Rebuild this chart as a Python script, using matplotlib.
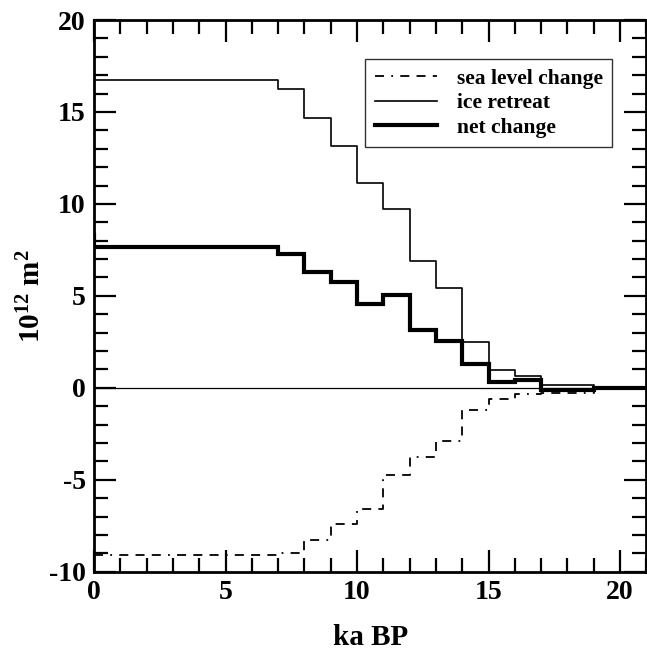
import matplotlib
matplotlib.use("Agg")
import matplotlib.pyplot as plt
from matplotlib.ticker import MultipleLocator

# Interval edges (ka BP) and values per interval (10^12 m^2)
edges = [0, 7, 8, 9, 10, 11, 12, 13, 14, 15, 16, 17, 18, 19, 21]
ice_retreat = [16.74, 16.23, 14.66, 13.15, 11.12, 9.75, 6.9, 5.42, 2.5, 0.96, 0.63, 0.15, 0.15, 0.0]
sea_level = [-9.11, -8.99, -8.30, -7.43, -6.58, -4.76, -3.75, -2.9, -1.2, -0.63, -0.36, -0.28, -0.28, 0.0]
net_change = [7.65, 7.28, 6.32, 5.74, 4.57, 5.02, 3.15, 2.55, 1.3, 0.33, 0.40, -0.12, -0.12, 0.0]
net_start = 8.3

xticks = [0, 5, 10, 15, 20]
yticks = [-10, -5, 0, 5, 10, 15, 20]

plt.rcParams['font.family'] = ['Liberation Serif', 'DejaVu Serif']
plt.rcParams['font.weight'] = 'bold'
plt.rcParams['axes.unicode_minus'] = False
plt.rcParams['mathtext.fontset'] = 'custom'
plt.rcParams['mathtext.rm'] = 'Liberation Serif:bold'
plt.rcParams['mathtext.bf'] = 'Liberation Serif:bold'
plt.rcParams['mathtext.it'] = 'Liberation Serif:bold'

fig = plt.figure(figsize=(6.47, 6.50), dpi=100)
ax = fig.add_axes([0.1453, 0.1205, 0.8537, 0.8487])

ax.axhline(0, color='black', lw=0.9, zorder=1)

ax.plot(edges, sea_level + [sea_level[-1]], drawstyle='steps-post', color='black',
        lw=1.3, dashes=(5, 4, 1, 4, 5, 4, 5, 4), label='sea level change', zorder=2)
ax.plot(edges, ice_retreat + [ice_retreat[-1]], drawstyle='steps-post', color='black',
        lw=1.2, label='ice retreat', zorder=3)
ax.plot([edges[0]] + edges, [net_start] + net_change + [net_change[-1]], drawstyle='steps-post',
        color='black', lw=3.0, label='net change', zorder=4, solid_joinstyle='miter')

ax.set_xlim(0, 21)
ax.set_ylim(-10, 20)
ax.set_xticks(xticks)
ax.set_yticks(yticks)
ax.xaxis.set_minor_locator(MultipleLocator(1))
ax.yaxis.set_minor_locator(MultipleLocator(1))
ax.tick_params(which='both', direction='in', top=True, right=True, width=1.6)
ax.tick_params(which='major', length=16, labelsize=20, pad=6)
ax.tick_params(which='minor', length=10)
for lab in ax.get_xticklabels() + ax.get_yticklabels():
    lab.set_fontweight('bold')
for s in ax.spines.values():
    s.set_linewidth(2.0)

ax.set_xlabel('ka BP', fontsize=21, fontweight='bold', labelpad=14)
ax.set_ylabel(r'10$^{12}$ m$^{2}$', fontsize=21, fontweight='bold', labelpad=2)

leg = ax.legend(loc='upper right', bbox_to_anchor=(0.9385, 0.929), borderaxespad=0,
                prop={'weight': 'bold', 'size': 15.5}, frameon=True, fancybox=False,
                edgecolor='black', handlelength=2.9, handletextpad=0.9,
                borderpad=0.45, labelspacing=0.2)
leg.get_frame().set_linewidth(1.0)

fig.savefig('out.png', dpi=100)
